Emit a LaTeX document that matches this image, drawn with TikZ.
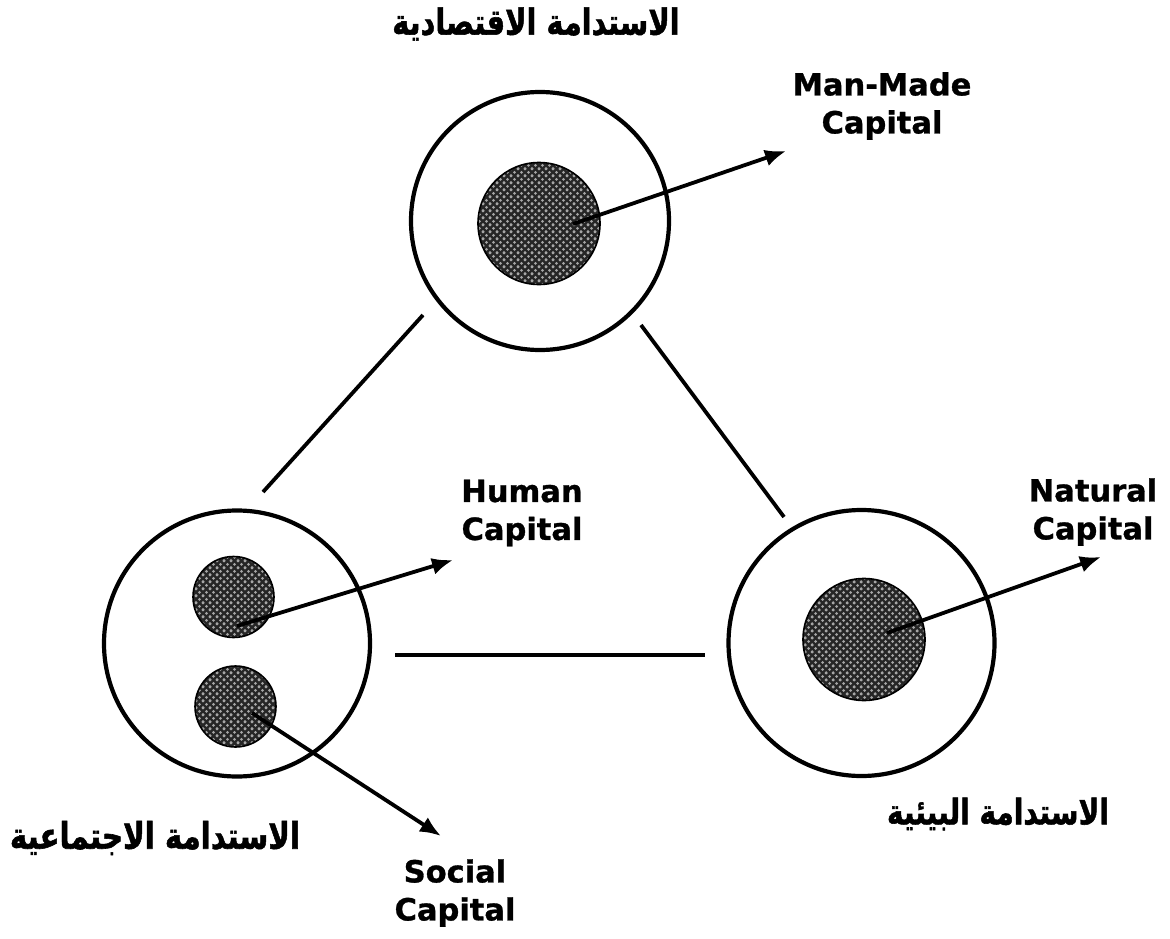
\documentclass[tikz,border=0pt]{standalone}
\usepackage{fontspec}
\setmainfont[BoldFeatures={FakeBold=1}]{DejaVu Sans}
\newfontfamily\arabicfont[Script=Arabic,BoldFeatures={FakeBold=1.6}]{DejaVu Sans}
\TeXXeTstate=1
\usetikzlibrary{arrows.meta,patterns}
\pgfdeclarepatternformonly{capdots}{\pgfqpoint{-1pt}{-1pt}}{\pgfqpoint{8pt}{8pt}}{\pgfqpoint{7pt}{7pt}}{%
  \pgfpathcircle{\pgfqpoint{0pt}{0pt}}{1.5pt}\pgfusepath{fill}%
  \pgfpathcircle{\pgfqpoint{3.5pt}{3.5pt}}{1.5pt}\pgfusepath{fill}%
  \pgfpathcircle{\pgfqpoint{7pt}{7pt}}{1.5pt}\pgfusepath{fill}%
  \pgfpathcircle{\pgfqpoint{7pt}{0pt}}{1.5pt}\pgfusepath{fill}%
  \pgfpathcircle{\pgfqpoint{0pt}{7pt}}{1.5pt}\pgfusepath{fill}%
}
\tikzset{
  outercirc/.style={circle, draw, line width=4.2pt, inner sep=0pt, minimum size=#1},
  capcirc/.style={circle, draw, line width=1.6pt, inner sep=0pt, minimum size=#1,
    preaction={fill=black!85}, pattern=capdots, pattern color=black!35},
  link/.style={line width=3.8pt},
  ptr/.style={line width=3.8pt, -{Latex[length=21pt,width=17pt]}},
  lbl/.style={font=\fontsize{30.5}{38}\selectfont\bfseries, align=center, inner sep=0pt},
  albl/.style={font=\arabicfont\fontsize{#1}{37}\selectfont\bfseries, inner sep=0pt},
}
\newcommand{\artxt}[1]{\scalebox{1}[1.25]{\beginR #1\endR}}
\begin{document}
\begin{tikzpicture}[x=1pt,y=-1pt]
\useasboundingbox (0,0) rectangle (1170,939);
% outer circles
\node[outercirc=258pt] (econ) at (540,221) {};
\node[outercirc=266pt] (soc) at (237,643.5) {};
\node[outercirc=266pt] (env) at (861.5,643) {};
% inner shaded circles
\node[capcirc=122pt] (mm) at (539,223.5) {};
\node[capcirc=81pt] (hum) at (233.5,597) {};
\node[capcirc=81pt] (sc) at (235.5,706.5) {};
\node[capcirc=122pt] (nat) at (864,639.5) {};
% link endpoints
\coordinate (l1a) at (423,315); \coordinate (l1b) at (263,492);
\coordinate (l2a) at (641,325); \coordinate (l2b) at (784,517);
\coordinate (l3a) at (395,655); \coordinate (l3b) at (705,655);
\draw[link] (l1a) -- (l1b);
\draw[link] (l2a) -- (l2b);
\draw[link] (l3a) -- (l3b);
% labels
\node[lbl] (mmlbl) at (882,106) {Man-Made\\Capital};
\node[lbl] (humlbl) at (522,513) {Human\\Capital};
\node[lbl] (natlbl) at (1093,512) {Natural\\Capital};
\node[lbl] (sclbl) at (455,893) {Social\\Capital};
\node[albl=28.8] (econlbl) at (536,24) {\artxt{الاستدامة الاقتصادية}};
\node[albl=29.2] (soclbl) at (155,838) {\artxt{الاستدامة الاجتماعية}};
\node[albl=28] (envlbl) at (998,814) {\artxt{الاستدامة البيئية}};
% arrows
\coordinate (mma) at (573,224); \coordinate (mmt) at (786,151);
\coordinate (huma) at (237,626); \coordinate (humt) at (453,560);
\coordinate (sca) at (252,713); \coordinate (sct) at (441,836);
\coordinate (nata) at (887,633); \coordinate (natt) at (1101,557);
\draw[ptr] (mma) -- (mmt);
\draw[ptr] (huma) -- (humt);
\draw[ptr] (sca) -- (sct);
\draw[ptr] (nata) -- (natt);
\end{tikzpicture}
\end{document}
